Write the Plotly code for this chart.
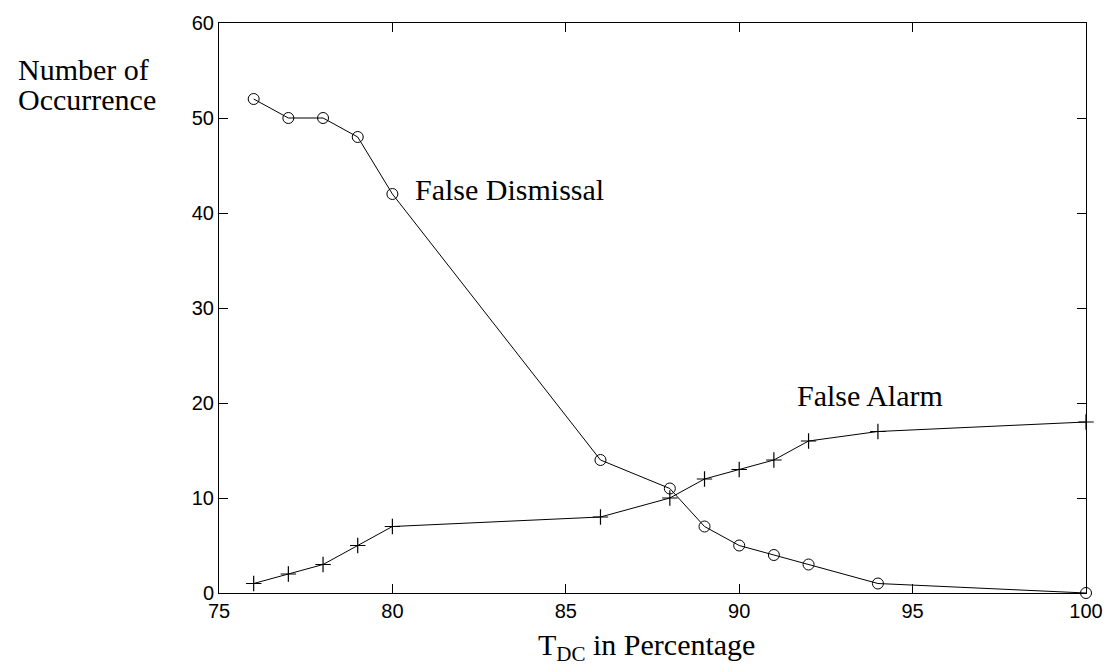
import plotly.graph_objects as go

t_dc = [76, 77, 78, 79, 80, 86, 88, 89, 90, 91, 92, 94, 100]
false_dismissal = [52, 50, 50, 48, 42, 14, 11, 7, 5, 4, 3, 1, 0]
false_alarm = [1, 2, 3, 5, 7, 8, 10, 12, 13, 14, 16, 17, 18]
x_ticks = [75, 80, 85, 90, 95, 100]
y_ticks = [0, 10, 20, 30, 40, 50, 60]

serif = "Liberation Serif, Times New Roman, serif"
sans = "Liberation Sans, Arial, sans-serif"

fig = go.Figure()
fig.add_trace(go.Scatter(
    x=t_dc, y=false_dismissal, mode="lines+markers",
    line=dict(color="black", width=1),
    marker=dict(symbol="circle-open", size=11, color="black", line=dict(width=1)),
    cliponaxis=False, showlegend=False))
fig.add_trace(go.Scatter(
    x=t_dc, y=false_alarm, mode="lines+markers",
    line=dict(color="black", width=1),
    marker=dict(symbol="cross-thin-open", size=11, color="black", line=dict(width=1.2, color="black")),
    cliponaxis=False, showlegend=False))

axis_common = dict(
    showgrid=False, zeroline=False, showline=True, linecolor="black", linewidth=1,
    mirror="ticks", ticks="inside", ticklen=9, tickcolor="black", tickwidth=1,
    tickfont=dict(family=sans, size=20, color="black"),
)
fig.update_xaxes(range=[75, 100], tickvals=x_ticks, **axis_common)
fig.update_yaxes(range=[0, 60], tickvals=y_ticks, **axis_common)

text_font = dict(family=serif, size=30, color="black")
fig.add_annotation(x=80.6, y=42.5, xref="x", yref="y", text="False Dismissal",
                   showarrow=False, xanchor="left", yanchor="middle", font=text_font)
fig.add_annotation(x=91.6, y=20.8, xref="x", yref="y", text="False Alarm",
                   showarrow=False, xanchor="left", yanchor="middle", font=text_font)
fig.add_annotation(x=-0.2342, y=0.9185, xref="paper", yref="paper", xanchor="left", yanchor="middle",
                   text="Number of", showarrow=False, font=text_font)
fig.add_annotation(x=-0.2342, y=0.8666, xref="paper", yref="paper", xanchor="left", yanchor="middle",
                   text="Occurrence", showarrow=False, font=text_font)
fig.add_annotation(x=0.493, y=-0.095, xref="paper", yref="paper", xanchor="center", yanchor="middle",
                   text="T<sub>DC</sub> in Percentage", showarrow=False, font=text_font)

fig.update_layout(
    width=1115, height=671,
    margin=dict(l=219, r=25, t=16, b=78),
    paper_bgcolor="white", plot_bgcolor="white",
)
fig.write_html("out.html")
